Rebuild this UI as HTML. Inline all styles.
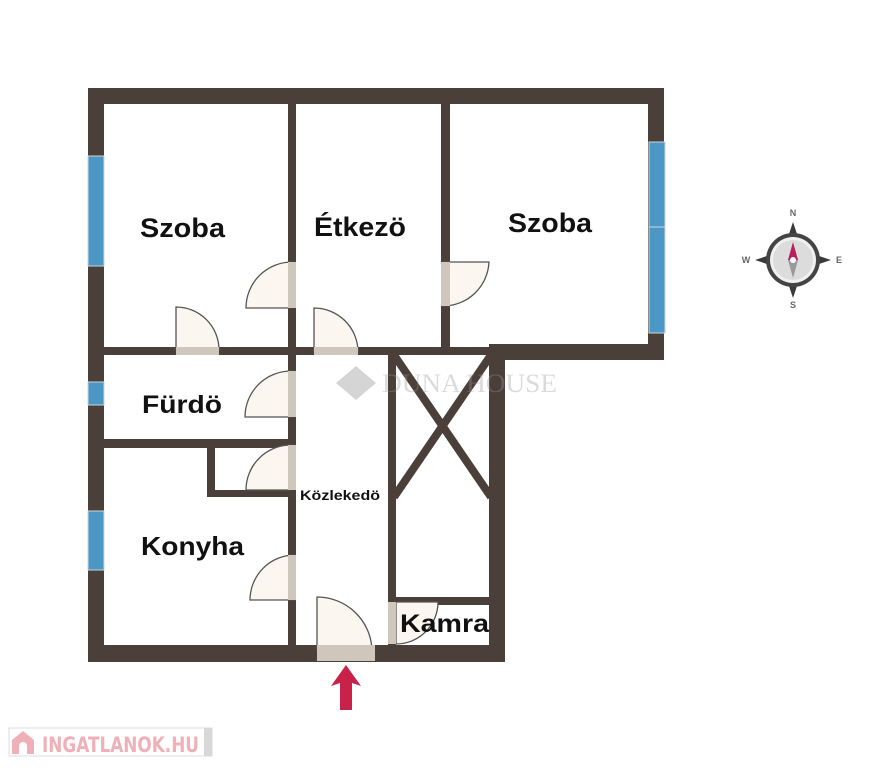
<!DOCTYPE html>
<html><head><meta charset="utf-8"><style>
html,body{margin:0;padding:0;background:#fff;}
svg{display:block;}
text{font-family:"Liberation Sans",sans-serif;font-weight:bold;}
</style></head><body>
<svg width="896" height="768" viewBox="0 0 896 768" xmlns="http://www.w3.org/2000/svg">
<rect width="896" height="768" fill="#fff"/>
<g fill="#4b3f39">
<rect x="88" y="88" width="576" height="16"/>
<rect x="88" y="88" width="16" height="574"/>
<rect x="648" y="88" width="16" height="272"/>
<rect x="490" y="344" width="174" height="16"/>
<rect x="489" y="344" width="16" height="318"/>
<rect x="88" y="645" width="417" height="17"/>
<rect x="288" y="88" width="8" height="560"/>
<rect x="441" y="88" width="9" height="262"/>
<rect x="88" y="347" width="410" height="8"/>
<rect x="88" y="439" width="208" height="9"/>
<rect x="207" y="439" width="8" height="58"/>
<rect x="207" y="490" width="85" height="7"/>
<rect x="388" y="350" width="8" height="300"/>
<rect x="392" y="597" width="100" height="8"/>
</g>
<g stroke="#4b3f39" stroke-width="8">
<line x1="394" y1="355" x2="491" y2="497"/>
<line x1="491" y1="355" x2="394" y2="497"/>
</g>
<g fill="#4b98c6" stroke="#cfd6da" stroke-width="1">
<rect x="88" y="156" width="16" height="110"/>
<rect x="88" y="382" width="16" height="23"/>
<rect x="88" y="511" width="16" height="59"/>
<rect x="649" y="142" width="16" height="85"/>
<rect x="649" y="227" width="16" height="106"/>
</g>
<g fill="#fbf6ef" stroke="#555" stroke-width="1.3">
<path d="M176,350 L176,307 A43,43 0 0 1 219,350 Z"/>
<path d="M292,308 L246,308 A46,46 0 0 1 292,262 Z"/>
<path d="M314,352 L314,308 A44,44 0 0 1 358,352 Z"/>
<path d="M443,262 L489,262 A46,46 0 0 1 443,306 Z"/>
<path d="M291,417 L245,417 A46,46 0 0 1 291,371 Z"/>
<path d="M291,490 L246,490 A45,45 0 0 1 291,445 Z"/>
<path d="M295,600 L250,600 A45,45 0 0 1 295,555 Z"/>
<path d="M396,602 L438,602 A42,42 0 0 1 396,644 Z"/>
<path d="M317,650 L317,597 A55,55 0 0 1 372,650 Z"/>
</g>
<g fill="#cfc6bc">
<rect x="176" y="347" width="43" height="8"/>
<rect x="314" y="347" width="44" height="8"/>
<rect x="288" y="262" width="8" height="46"/>
<rect x="441" y="262" width="9" height="44"/>
<rect x="288" y="371" width="8" height="46"/>
<rect x="288" y="445" width="8" height="45"/>
<rect x="288" y="555" width="8" height="45"/>
<rect x="388" y="602" width="8" height="42"/>
<rect x="317" y="645" width="58" height="16"/>
</g>
<g opacity="0.35">
<path d="M356,366 L376,383 L356,400 L336,383 Z" fill="#888"/>
<text x="382" y="392" font-size="26" fill="#999" style="font-family:'Liberation Serif',serif;font-weight:normal" textLength="175" lengthAdjust="spacingAndGlyphs">DUNA HOUSE</text>
</g>
<text x="140" y="237" font-size="27" fill="#111" textLength="85" lengthAdjust="spacingAndGlyphs">Szoba</text>
<text x="314" y="236" font-size="27" fill="#111" textLength="92" lengthAdjust="spacingAndGlyphs">Étkezö</text>
<text x="508" y="232" font-size="27" fill="#111" textLength="84" lengthAdjust="spacingAndGlyphs">Szoba</text>
<text x="142" y="413" font-size="25" fill="#111" textLength="80" lengthAdjust="spacingAndGlyphs">Fürdö</text>
<text x="141" y="555" font-size="26" fill="#111" textLength="103" lengthAdjust="spacingAndGlyphs">Konyha</text>
<text x="300" y="500" font-size="14" fill="#111" textLength="80" lengthAdjust="spacingAndGlyphs">Közlekedö</text>
<text x="400" y="632" font-size="25" fill="#111" textLength="89" lengthAdjust="spacingAndGlyphs">Kamra</text>
<path d="M346,665 L361,686 L352,683 L352,710 L340,710 L340,683 L331,686 Z" fill="#c8224a"/>
<g>
<path d="M793,222 L799,240 L813,254 L831,260 L813,266 L799,280 L793,298 L787,280 L773,266 L755,260 L773,254 L787,240 Z" fill="#3a3a3a"/>
<circle cx="793" cy="260" r="27" fill="#444"/>
<circle cx="793" cy="260" r="23" fill="#f0f0f0"/>
<circle cx="793" cy="260" r="20" fill="#dcdcdc"/>
<path d="M793,242 L798,260 L788,260 Z" fill="#b8205a"/>
<path d="M793,278 L798,260 L788,260 Z" fill="#999"/>
<circle cx="793" cy="260" r="3" fill="#fff"/>
<text x="793" y="216" font-size="9" fill="#666" text-anchor="middle">N</text>
<text x="793" y="308" font-size="9" fill="#666" text-anchor="middle">S</text>
<text x="746" y="263" font-size="9" fill="#666" text-anchor="middle">W</text>
<text x="839" y="263" font-size="9" fill="#666" text-anchor="middle">E</text>
</g>
<rect x="9" y="728" width="203" height="28" fill="#fff" stroke="#ddd"/>
<rect x="204" y="728" width="8" height="28" fill="#d8d8d8"/>
<path d="M12,740 L23,731 L34,740 L34,754 L12,754 Z" fill="#f0b0b8"/>
<path d="M19,754 L19,746 A4,4 0 0 1 27,746 L27,754 Z" fill="#fff"/>
<text x="42" y="752" font-size="21" fill="#f0b0b8" style="font-family:'DejaVu Sans',sans-serif" textLength="157" lengthAdjust="spacingAndGlyphs">INGATLANOK.HU</text>
</svg>
</body></html>
